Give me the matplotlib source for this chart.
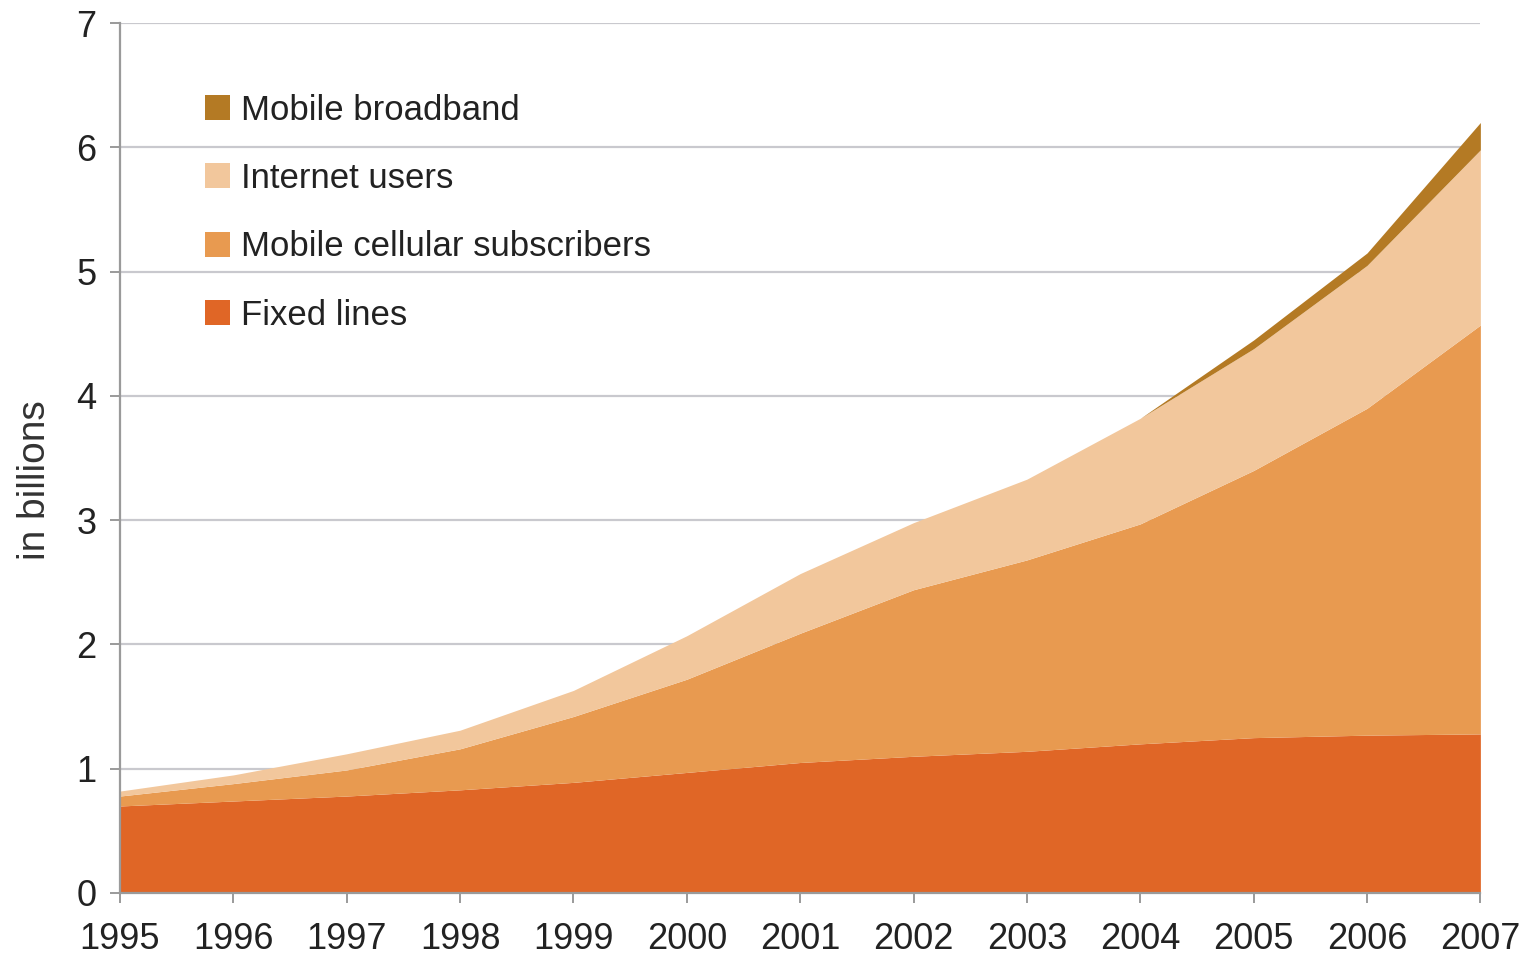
import matplotlib
matplotlib.use('Agg')
import matplotlib.pyplot as plt
from matplotlib.patches import Patch
import numpy as np

# values (billions), cumulative tops of each band
years = [1995, 1996, 1997, 1998, 1999, 2000, 2001, 2002, 2003, 2004, 2005, 2006, 2007]
fixed_lines = [0.70, 0.74, 0.78, 0.83, 0.89, 0.97, 1.05, 1.10, 1.14, 1.20, 1.25, 1.27, 1.28]
mobile_top = [0.78, 0.88, 0.99, 1.16, 1.42, 1.72, 2.09, 2.44, 2.68, 2.97, 3.40, 3.90, 4.57]
internet_top = [0.82, 0.95, 1.12, 1.31, 1.63, 2.07, 2.57, 2.98, 3.33, 3.82, 4.38, 5.05, 5.98]
broadband_top = [0.82, 0.95, 1.12, 1.31, 1.63, 2.07, 2.57, 2.98, 3.33, 3.82, 4.45, 5.15, 6.20]

labels = ['Mobile broadband', 'Internet users', 'Mobile cellular subscribers', 'Fixed lines']
colors = ['#B47A24', '#F2C79C', '#E89A50', '#E06626']

plt.rcParams['font.family'] = ['Liberation Sans', 'DejaVu Sans']

fig = plt.figure(figsize=(15.32, 9.66), dpi=100)
ax = fig.add_axes([0.0783, 0.0756, 0.888, 0.9005])

ax.fill_between(years, 0, fixed_lines, color=colors[3], lw=0, zorder=2)
ax.fill_between(years, fixed_lines, mobile_top, color=colors[2], lw=0, zorder=2)
ax.fill_between(years, mobile_top, internet_top, color=colors[1], lw=0, zorder=2)
ax.fill_between(years, internet_top, broadband_top, color=colors[0], lw=0, zorder=2)

ax.set_xlim(1995, 2007)
ax.set_ylim(0, 7)
ax.set_xticks(years)
ax.set_yticks(range(0, 8))
ax.grid(axis='y', color='#C9C9CE', lw=1.6, zorder=1)
ax.set_axisbelow(True)

for s in ['top', 'right']:
    ax.spines[s].set_visible(False)
ax.spines['left'].set_color('#9A9A9A')
ax.spines['left'].set_linewidth(1.6)
ax.spines['bottom'].set_color('#9A9A9A')
ax.spines['bottom'].set_linewidth(1.6)
ax.spines['bottom'].set_zorder(3)

ax.tick_params(axis='both', colors='#9A9A9A', labelcolor='#222222', labelsize=26,
               length=7, width=1.4)
ax.tick_params(axis='x', pad=14)
ax.tick_params(axis='y', pad=10)

ax.set_ylabel('in billions', fontsize=28, color='#333333')
ax.yaxis.set_label_coords(-0.049, 0.475)

handles = [Patch(facecolor=c, edgecolor='none') for c in colors]
leg = ax.legend(handles, labels, loc='upper left', bbox_to_anchor=(0.0525, 0.935),
                frameon=False, fontsize=25, handlelength=0.72, handleheight=0.72,
                handletextpad=0.3, labelspacing=1.02, borderaxespad=0)
for t in leg.get_texts():
    t.set_color('#222222')

fig.savefig('out.png', dpi=100, facecolor='white')
